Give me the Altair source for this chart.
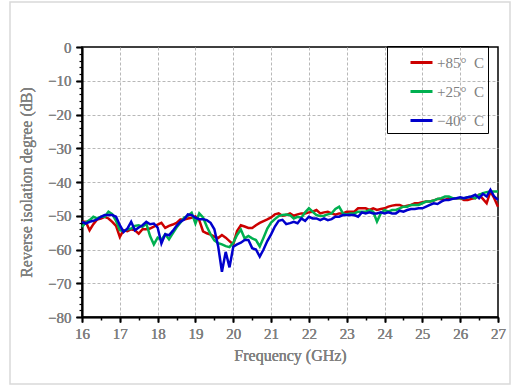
import altair as alt
import pandas as pd

# ---------------- data ----------------
freq = [round(16 + 0.1 * i, 1) for i in range(111)]

red = [-51.8, -51.8, -54.3, -52.5, -51.1, -50.8, -50.3, -50.8, -51.8, -53.0,
       -56.3, -54.3, -54.6, -54.0, -54.3, -55.3, -54.0, -54.0, -53.8, -53.2,
       -52.6, -52.1, -53.6, -53.0, -52.6, -52.1, -51.1, -51.1, -50.8, -50.6,
       -50.2, -51.3, -54.6, -55.2, -55.6, -56.2, -56.6, -55.7, -56.5, -57.5,
       -58.5, -54.5, -52.8, -53.2, -53.6, -53.6, -52.8, -52.1, -51.6, -51.1,
       -50.5, -49.6, -49.3, -50.0, -49.8, -49.3, -50.0, -49.6, -49.3, -49.3,
       -49.0, -48.8, -48.3, -49.3, -49.0, -48.8, -49.3, -49.7, -49.3, -49.3,
       -48.8, -48.8, -48.8, -47.8, -47.8, -47.8, -48.3, -47.8, -48.3, -48.0,
       -47.8, -47.3, -47.0, -46.8, -46.8, -47.3, -47.0, -46.8, -46.3, -46.3,
       -46.0, -45.8, -45.8, -45.5, -45.0, -45.0, -45.3, -44.8, -44.8, -44.8,
       -44.8, -45.3, -45.3, -45.0, -44.8, -43.8, -45.0, -46.3, -42.8, -44.8,
       -47.3]

green = [-53.3, -52.0, -51.3, -50.3, -50.8, -50.3, -50.3, -48.8, -49.5, -51.5,
         -54.3, -54.6, -54.0, -53.8, -53.0, -52.8, -53.3, -52.3, -56.0, -58.5,
         -56.5, -57.1, -55.5, -57.0, -55.2, -53.5, -52.1, -50.6, -50.0, -49.1,
         -52.3, -49.3, -50.5, -53.2, -55.5, -57.3, -58.1, -58.5, -59.0, -59.3,
         -58.0, -55.7, -54.1, -56.7, -56.0, -56.7, -57.2, -59.1, -56.5, -53.8,
         -52.0, -51.0, -50.1, -49.8, -49.6, -49.8, -50.8, -50.3, -50.6, -49.0,
         -47.8, -48.8, -49.8, -50.1, -50.0, -49.6, -49.3, -48.0, -47.3, -49.3,
         -49.6, -49.3, -49.3, -48.8, -48.8, -48.8, -48.3, -48.8, -51.7, -49.3,
         -48.3, -48.8, -48.3, -48.3, -47.8, -47.3, -47.3, -46.8, -46.8, -46.8,
         -46.3, -45.8, -45.8, -45.5, -45.0, -44.8, -44.3, -44.3, -44.8, -44.8,
         -44.8, -44.8, -44.5, -44.3, -44.8, -43.8, -43.3, -43.0, -42.8, -42.8,
         -42.8]

blue = [-51.8, -52.3, -51.8, -51.5, -51.1, -50.3, -49.8, -49.8, -49.8, -50.3,
        -52.8, -54.8, -53.8, -51.8, -54.3, -53.5, -52.8, -51.8, -52.5, -52.3,
        -53.5, -58.2, -55.5, -55.8, -54.5, -53.0, -51.8, -51.1, -49.6, -49.8,
        -50.6, -51.0, -51.0, -51.3, -52.1, -54.0, -59.0, -66.6, -60.7, -65.3,
        -59.2, -58.5, -58.0, -57.2, -57.2, -59.6, -60.0, -62.1, -60.0, -57.5,
        -55.5, -53.2, -51.5, -51.2, -52.5, -52.2, -51.8, -52.2, -50.8, -51.5,
        -50.3, -50.8, -50.8, -51.3, -50.8, -51.3, -51.0, -50.3, -50.3, -49.8,
        -49.8, -49.8, -49.8, -50.3, -49.0, -49.3, -49.0, -49.3, -49.3, -49.0,
        -49.3, -49.0, -49.3, -49.3, -48.5, -48.8, -48.3, -48.0, -48.0, -47.8,
        -47.8, -47.3, -46.8, -46.3, -46.5, -45.8, -45.3, -45.3, -45.0, -44.8,
        -44.5, -44.8, -44.5, -44.3, -43.8, -44.8, -43.5, -44.3, -42.3, -44.3,
        -45.3]

series_names = ["+85°\u2002C", "+25°\u2002C", "\u221240°\u2002C"]
series_colors = ["#cc0000", "#00b050", "#0000cc"]

x_ticks = list(range(16, 28))
x_minor = [16.5 + i for i in range(11)]
x_grid = list(range(17, 27))
y_ticks = list(range(-80, 1, 10))
y_minor = [v for v in range(-80, 1, 2) if v % 10 != 0]
y_grid = list(range(-70, 0, 10))

rows = []
for name, vals in zip(series_names, [red, green, blue]):
    for f, v in zip(freq, vals):
        rows.append({"freq": f, "db": v, "series": name})
df = pd.DataFrame(rows)

# ---------------- style ----------------
FONT = "'Liberation Serif', 'Times New Roman', serif"
TFONT = "'Liberation Serif', 'Times New Roman', serif"
GRAY = "#808080"

xscale = alt.Scale(domain=[16, 27], nice=False, zero=False)
yscale = alt.Scale(domain=[-80, 0], nice=False, zero=False)

main_x_axis = alt.Axis(values=x_ticks, format="d", title="Frequency (GHz)", orient="bottom",
                       grid=False, tickSize=5, tickColor="black", tickWidth=1.5,
                       domainColor="black", domainWidth=1.5,
                       labelFont=FONT, labelFontSize=15, labelColor=GRAY, labelPadding=4,
                       labelFlush=False,
                       titleFont=TFONT, titleFontSize=16, titleColor=GRAY,
                       titleFontWeight="normal", titlePadding=6)
main_y_axis = alt.Axis(values=y_ticks, format="d", title="Reverse isolation degree (dB)",
                       orient="left", grid=False, tickSize=6, tickColor="black", tickWidth=1.5,
                       domainColor="black", domainWidth=1.5,
                       labelFont=FONT, labelFontSize=15, labelColor=GRAY, labelPadding=5,
                       labelFlush=False,
                       titleFont=TFONT, titleFontSize=16, titleColor=GRAY,
                       titleFontWeight="normal", titlePadding=13)

minor_x_axis = alt.Axis(values=x_minor, orient="bottom", title=None, labels=False, grid=False,
                        domain=False, tickSize=3, tickColor="black", tickWidth=1.5)
minor_y_axis = alt.Axis(values=y_minor, orient="left", title=None, labels=False, grid=False,
                        domain=False, tickSize=3, tickColor="black", tickWidth=1.2)

grid_x_axis = alt.Axis(values=x_grid, orient="bottom", title=None, labels=False, ticks=False,
                       domain=False, grid=True, gridColor="#b8b8b8", gridDash=[3, 2],
                       gridWidth=1)
grid_y_axis = alt.Axis(values=y_grid, orient="left", title=None, labels=False, ticks=False,
                       domain=False, grid=True, gridColor="#b8b8b8", gridDash=[3, 2],
                       gridWidth=1)

legend = alt.Legend(title=None, orient="none", legendX=305, legendY=-1,
                    strokeColor="black", padding=4, symbolType="stroke",
                    symbolSize=484, symbolStrokeWidth=3, symbolOffset=18,
                    labelFont=FONT, labelFontSize=15, labelColor=GRAY, labelOffset=3,
                    rowPadding=8, direction="vertical")

color = alt.Color("series:N",
                  scale=alt.Scale(domain=series_names, range=series_colors),
                  legend=legend)

frame = alt.Chart(pd.DataFrame({"a": [0]})).mark_rect(
    fillOpacity=0, stroke="#d9d9d9", strokeWidth=1.5
).encode(x=alt.value(-72), x2=alt.value(428), y=alt.value(-45), y2=alt.value(337))

grid_layer = alt.Chart(df).mark_point(opacity=0).encode(
    x=alt.X("freq:Q", scale=xscale, axis=grid_x_axis),
    y=alt.Y("db:Q", scale=yscale, axis=grid_y_axis),
)

minor_layer = alt.Chart(df).mark_point(opacity=0).encode(
    x=alt.X("freq:Q", scale=xscale, axis=minor_x_axis),
    y=alt.Y("db:Q", scale=yscale, axis=minor_y_axis),
)

line_layers = [
    alt.Chart(df).transform_filter(alt.datum.series == n).mark_line(strokeWidth=2.5).encode(
        x=alt.X("freq:Q", scale=xscale, axis=main_x_axis),
        y=alt.Y("db:Q", scale=yscale, axis=main_y_axis),
        color=color,
    )
    for n in series_names
]

chart = alt.layer(
    frame, grid_layer, minor_layer, *line_layers
).resolve_axis(
    x="independent", y="independent"
).properties(
    width=416, height=270,
    padding={"left": 82, "top": 47, "right": 21, "bottom": 68},
    autosize=alt.AutoSizeParams(type="none"),
    background="white",
).configure_view(stroke="black", strokeWidth=1.5)

chart.save("out.html", embed_options={"renderer": "svg", "actions": False})
